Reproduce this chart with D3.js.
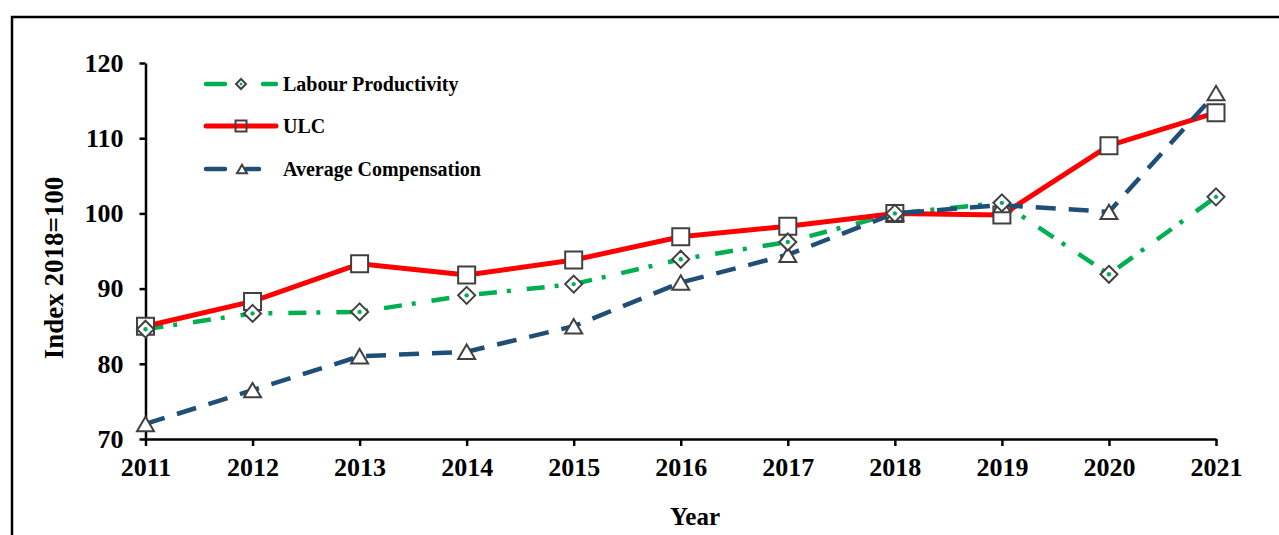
<!DOCTYPE html>
<html><head><meta charset="utf-8">
<script src="https://cdn.jsdelivr.net/npm/d3@7"></script>
<style>
html,body{margin:0;padding:0;background:#fff;}
svg{display:block;font-family:"Liberation Serif","Times New Roman",serif;font-weight:bold;}
</style></head>
<body>
<svg id="chart" width="1279" height="535"></svg>
<script>
const years = [2011,2012,2013,2014,2015,2016,2017,2018,2019,2020,2021];
const labourProductivity = [84.6,86.7,86.9,89.1,90.6,93.9,96.2,100,101.4,91.9,102.2];
const ulc = [85.0,88.3,93.3,91.8,93.8,96.9,98.3,100,99.8,109.0,113.4];
const avgCompensation = [72.0,76.5,81.0,81.6,85.0,90.8,94.5,100,101.1,100.2,116.0];
const yTicks = [70,80,90,100,110,120];
const seriesNames = ["Labour Productivity","ULC","Average Compensation"];
const yTitle = "Index 2018=100";
const xTitle = "Year";

const svg = d3.select("#chart");
const x = d3.scaleLinear().domain([2011,2021]).range([145.5,1216]);
const y = d3.scaleLinear().domain([70,120]).range([439,63]);

// outer frame
svg.append("rect").attr("x",12).attr("y",17).attr("width",1400).attr("height",700)
  .attr("fill","none").attr("stroke","#000").attr("stroke-width",2.5);

// axes
const yAxis = d3.axisLeft(y).tickValues(yTicks).tickSize(6).tickSizeOuter(0).tickPadding(16).tickFormat(d3.format("d"));
const gy = svg.append("g").attr("transform",`translate(${x(2011)},0)`).call(yAxis);
const xAxis = d3.axisBottom(x).tickValues(years).tickSize(7).tickSizeOuter(0).tickPadding(12).tickFormat(d3.format("d"));
const gx = svg.append("g").attr("transform",`translate(0,${y(70)})`).call(xAxis);
[gy,gx].forEach(g=>{
  g.select(".domain").attr("stroke","#000").attr("stroke-width",2.5);
  g.selectAll(".tick line").attr("stroke","#000").attr("stroke-width",2.5);
  g.selectAll(".tick text").attr("fill","#000").style("font-size","26px").style("font-weight","bold")
   .style("font-family","'Liberation Serif',serif");
});

// titles
svg.append("text").attr("transform",`translate(63,268) rotate(-90)`).attr("text-anchor","middle")
  .style("font-size","27px").text(yTitle);
svg.append("text").attr("x",695).attr("y",525).attr("text-anchor","middle")
  .style("font-size","25px").text(xTitle);

// series config
const mk = "#404040";
const series = [
  {name:seriesNames[0], values:labourProductivity, color:"#00B050", dash:"18,10,4,16", width:4.5, marker:"diamond"},
  {name:seriesNames[1], values:ulc, color:"#FF0000", dash:null, width:5, marker:"square"},
  {name:seriesNames[2], values:avgCompensation, color:"#1F4E79", dash:"20,13", width:4.5, marker:"triangle"}
];

function markerPath(type, s){
  const h = s/2;
  if(type==="square") return `M${-h},${-h}H${h}V${h}H${-h}Z`;
  if(type==="diamond") return `M0,${-h}L${h},0L0,${h}L${-h},0Z`;
  const th = s*0.85/2;
  return `M0,${-th}L${h},${th}L${-h},${th}Z`;
}

const line = d3.line().x((d,i)=>x(years[i])).y(d=>y(d));
series.forEach(s=>{
  svg.append("path").datum(s.values).attr("d",line).attr("fill","none")
    .attr("stroke",s.color).attr("stroke-width",s.width)
    .attr("stroke-dasharray",s.dash).attr("stroke-linejoin","round");
});

// markers
["square","triangle","diamond"].forEach(type=>{
  const s = series.find(d=>d.marker===type);
  const g = svg.append("g");
  s.values.forEach((v,i)=>{
    g.append("path").attr("d",markerPath(type,17))
      .attr("transform",`translate(${x(years[i])},${y(v)})`)
      .attr("fill","#fff").attr("stroke",mk).attr("stroke-width",2);
    if(type==="diamond"){
      g.append("circle").attr("cx",x(years[i])).attr("cy",y(v)).attr("r",2.2).attr("fill",s.color);
    }
  });
});

// legend
const legY = [84,126,169];
const lg = svg.append("g");
series.forEach((s,i)=>{
  const yy = legY[i];
  if(s.marker==="diamond"){
    lg.append("line").attr("x1",206).attr("x2",225).attr("y1",yy).attr("y2",yy).attr("stroke",s.color).attr("stroke-width",4.5).attr("stroke-linecap","round");
    lg.append("line").attr("x1",263).attr("x2",276).attr("y1",yy).attr("y2",yy).attr("stroke",s.color).attr("stroke-width",4.5).attr("stroke-linecap","round");
    lg.append("path").attr("d",markerPath("diamond",10)).attr("transform",`translate(241,${yy})`).attr("fill","#fff").attr("stroke",mk).attr("stroke-width",2);
    lg.append("circle").attr("cx",241).attr("cy",yy).attr("r",1.5).attr("fill",s.color);
  } else if(s.marker==="square"){
    lg.append("line").attr("x1",206).attr("x2",276).attr("y1",yy).attr("y2",yy).attr("stroke",s.color).attr("stroke-width",5).attr("stroke-linecap","round");
    lg.append("path").attr("d",markerPath("square",11)).attr("transform",`translate(241,${yy})`).attr("fill","none").attr("stroke",mk).attr("stroke-width",2);
  } else {
    lg.append("line").attr("x1",206).attr("x2",225).attr("y1",yy).attr("y2",yy).attr("stroke",s.color).attr("stroke-width",4.5).attr("stroke-linecap","round");
    lg.append("line").attr("x1",246).attr("x2",259).attr("y1",yy).attr("y2",yy).attr("stroke",s.color).attr("stroke-width",4.5).attr("stroke-linecap","round");
    lg.append("path").attr("d",markerPath("triangle",10)).attr("transform",`translate(242,${yy})`).attr("fill","none").attr("stroke",mk).attr("stroke-width",2);
  }
  lg.append("text").attr("x",283).attr("y",yy+7).style("font-size","20px").text(s.name);
});
</script>
</body></html>
